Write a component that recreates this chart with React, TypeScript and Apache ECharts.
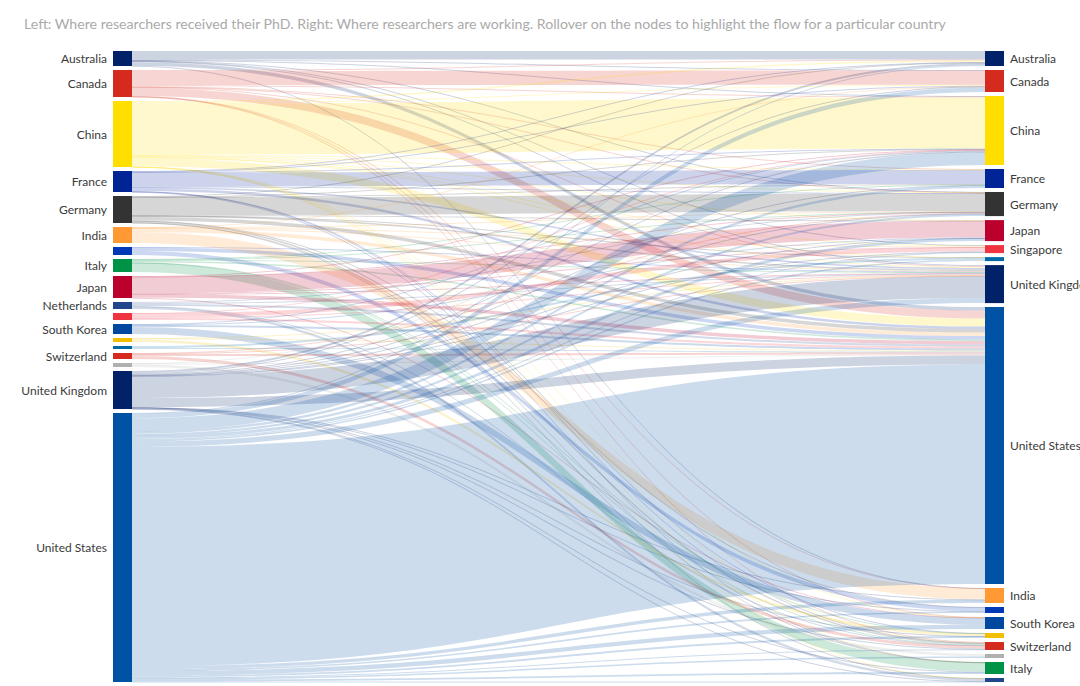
import React, { useEffect, useRef } from "react";
import * as echarts from "echarts";

const titleText =
  "Left: Where researchers received their PhD. Right: Where researchers are working. Rollover on the nodes to highlight the flow for a particular country";

// Left column (country of PhD), top to bottom
const phdCountries = [
  "Australia", "Canada", "China", "France", "Germany", "India", "Israel", "Italy", "Japan",
  "Netherlands", "Singapore", "South Korea", "Spain", "Sweden", "Switzerland", "Taiwan",
  "United Kingdom", "United States",
];
// Right column (country of work), top to bottom
const workCountries = [
  "Australia", "Canada", "China", "France", "Germany", "Japan", "Singapore", "Sweden",
  "United Kingdom", "United States", "India", "Israel", "South Korea", "Spain", "Switzerland",
  "Taiwan", "Italy", "Netherlands",
];
const phdHiddenLabels = ["Israel", "Singapore", "Spain", "Sweden", "Taiwan"];
const workHiddenLabels = ["Sweden", "Israel", "Spain", "Taiwan", "Netherlands"];

const countryColors: Record<string, string> = {
  Australia: "#012169",
  Canada: "#d52b1e",
  China: "#ffde00",
  France: "#002395",
  Germany: "#333333",
  India: "#ff9933",
  Israel: "#0038b8",
  Italy: "#009246",
  Japan: "#bc002d",
  Netherlands: "#21468b",
  Singapore: "#ef3340",
  "South Korea": "#0047a0",
  Spain: "#f1bf00",
  Sweden: "#006aa7",
  Switzerland: "#d52b1e",
  Taiwan: "#b0b0b0",
  "United Kingdom": "#012169",
  "United States": "#0052a5",
};

// [PhD country, work country, researchers]
const fromAustralia: [string, string, number][] = [
  ["Australia", "Australia", 8.6], ["Australia", "Canada", 0.5], ["Australia", "China", 0.5],
  ["Australia", "Germany", 0.2], ["Australia", "Singapore", 0.5], ["Australia", "United Kingdom", 1],
  ["Australia", "United States", 3.5], ["Australia", "India", 0.2],
];
const fromCanada: [string, string, number][] = [
  ["Canada", "Canada", 14.3], ["Canada", "Australia", 1], ["Canada", "China", 1], ["Canada", "France", 0.5],
  ["Canada", "Germany", 0.3], ["Canada", "United Kingdom", 1], ["Canada", "United States", 8],
  ["Canada", "India", 0.2], ["Canada", "South Korea", 0.2], ["Canada", "Switzerland", 0.5],
];
const fromChina: [string, string, number][] = [
  ["China", "China", 51], ["China", "Australia", 1.5], ["China", "Canada", 1], ["China", "France", 0.5],
  ["China", "Germany", 0.5], ["China", "Japan", 0.5], ["China", "Singapore", 1], ["China", "Sweden", 0.2],
  ["China", "United Kingdom", 1], ["China", "United States", 8], ["China", "South Korea", 0.3],
  ["China", "Switzerland", 0.2], ["China", "Italy", 0.1], ["China", "Netherlands", 0.2],
];
const fromFrance: [string, string, number][] = [
  ["France", "France", 14], ["France", "Australia", 0.5], ["France", "Canada", 0.5], ["France", "China", 0.5],
  ["France", "Germany", 0.5], ["France", "United Kingdom", 1.5], ["France", "United States", 2.5],
  ["France", "Spain", 0.2], ["France", "Switzerland", 0.5], ["France", "Italy", 0.3],
];
const fromGermany: [string, string, number][] = [
  ["Germany", "Germany", 17.7], ["Germany", "Australia", 0.5], ["Germany", "China", 0.5], ["Germany", "France", 0.5],
  ["Germany", "Japan", 0.2], ["Germany", "Sweden", 0.2], ["Germany", "United Kingdom", 1.5],
  ["Germany", "United States", 3.5], ["Germany", "Israel", 0.2], ["Germany", "Switzerland", 1.5],
  ["Germany", "Italy", 0.2], ["Germany", "Netherlands", 0.5],
];
const fromIndia: [string, string, number][] = [
  ["India", "India", 11], ["India", "Canada", 0.3], ["India", "Germany", 0.2], ["India", "Singapore", 0.5],
  ["India", "United Kingdom", 0.5], ["India", "United States", 3.5],
];
const fromIsrael: [string, string, number][] = [
  ["Israel", "Israel", 4], ["Israel", "United Kingdom", 0.5], ["Israel", "United States", 3.5],
];
const fromItaly: [string, string, number][] = [
  ["Italy", "Italy", 9], ["Italy", "France", 0.5], ["Italy", "Germany", 0.3], ["Italy", "United Kingdom", 1],
  ["Italy", "United States", 1.5], ["Italy", "Spain", 0.2], ["Italy", "Switzerland", 0.5],
];
const fromJapan: [string, string, number][] = [
  ["Japan", "Japan", 16.6], ["Japan", "China", 0.5], ["Japan", "Germany", 0.2], ["Japan", "Singapore", 0.5],
  ["Japan", "United Kingdom", 0.5], ["Japan", "United States", 3.5], ["Japan", "South Korea", 0.2],
];
const fromNetherlands: [string, string, number][] = [
  ["Netherlands", "Netherlands", 2.5], ["Netherlands", "Germany", 1], ["Netherlands", "United Kingdom", 1],
  ["Netherlands", "United States", 2], ["Netherlands", "Switzerland", 0.5],
];
const fromSingapore: [string, string, number][] = [
  ["Singapore", "Singapore", 4], ["Singapore", "China", 0.5], ["Singapore", "United Kingdom", 0.5],
  ["Singapore", "United States", 2],
];
const fromSouthKorea: [string, string, number][] = [
  ["South Korea", "South Korea", 7], ["South Korea", "China", 0.5], ["South Korea", "Japan", 0.5],
  ["South Korea", "United States", 2],
];
const fromSpain: [string, string, number][] = [
  ["Spain", "Spain", 2.5], ["Spain", "United Kingdom", 0.5], ["Spain", "United States", 1],
];
const fromSweden: [string, string, number][] = [
  ["Sweden", "Sweden", 2], ["Sweden", "United States", 1],
];
const fromSwitzerland: [string, string, number][] = [
  ["Switzerland", "Switzerland", 3], ["Switzerland", "Germany", 0.5], ["Switzerland", "United Kingdom", 0.5],
  ["Switzerland", "United States", 2],
];
const fromTaiwan: [string, string, number][] = [
  ["Taiwan", "Taiwan", 2.5], ["Taiwan", "China", 0.5], ["Taiwan", "United States", 1],
];
const fromUnitedKingdom: [string, string, number][] = [
  ["United Kingdom", "United Kingdom", 21.8], ["United Kingdom", "Australia", 2], ["United Kingdom", "Canada", 1],
  ["United Kingdom", "China", 0.5], ["United Kingdom", "France", 0.5], ["United Kingdom", "Germany", 0.5],
  ["United Kingdom", "Japan", 0.2], ["United Kingdom", "Singapore", 0.5], ["United Kingdom", "United States", 9],
  ["United Kingdom", "India", 0.3], ["United Kingdom", "Israel", 0.2], ["United Kingdom", "Spain", 0.2],
  ["United Kingdom", "Switzerland", 0.5], ["United Kingdom", "Italy", 0.5], ["United Kingdom", "Netherlands", 0.3],
];
const fromUnitedStates: [string, string, number][] = [
  ["United States", "United States", 219.4], ["United States", "Australia", 0.9], ["United States", "Canada", 4.4],
  ["United States", "China", 13], ["United States", "France", 2.5], ["United States", "Germany", 2.2],
  ["United States", "Japan", 3], ["United States", "Singapore", 1], ["United States", "Sweden", 1.6],
  ["United States", "United Kingdom", 5.2], ["United States", "India", 3.3], ["United States", "Israel", 1.6],
  ["United States", "South Korea", 4.3], ["United States", "Spain", 1.9], ["United States", "Switzerland", 0.8],
  ["United States", "Taiwan", 1.5], ["United States", "Italy", 1.9], ["United States", "Netherlands", 0.5],
];

const allFlows = [
  ...fromAustralia, ...fromCanada, ...fromChina, ...fromFrance, ...fromGermany, ...fromIndia,
  ...fromIsrael, ...fromItaly, ...fromJapan, ...fromNetherlands, ...fromSingapore, ...fromSouthKorea,
  ...fromSpain, ...fromSweden, ...fromSwitzerland, ...fromTaiwan, ...fromUnitedKingdom, ...fromUnitedStates,
];

const phdId = (c: string) => "PhD: " + c;
const workId = (c: string) => "Work: " + c;

export default function App() {
  const ref = useRef<HTMLDivElement>(null);
  useEffect(() => {
    if (!ref.current) return;
    const chart = echarts.init(ref.current, undefined, { renderer: "svg" });

    const nodes = [
      ...phdCountries.map((c) => ({
        name: phdId(c),
        country: c,
        itemStyle: { color: countryColors[c] },
        label: { show: !phdHiddenLabels.includes(c), position: "left" },
      })),
      ...workCountries.map((c) => ({
        name: workId(c),
        country: c,
        itemStyle: { color: countryColors[c] },
        label: { show: !workHiddenLabels.includes(c), position: "right" },
      })),
    ];
    const links = allFlows.map(([s, t, v]) => ({ source: phdId(s), target: workId(t), value: v }));

    chart.setOption({
      animation: false,
      backgroundColor: "#ffffff",
      title: {
        text: titleText,
        left: 19,
        top: 11,
        textStyle: { fontSize: 14.15, fontWeight: "normal", color: "#aaaaaa", fontFamily: "Lato" },
      },
      series: [
        {
          type: "sankey",
          left: 113,
          right: 76,
          top: 51,
          bottom: 4,
          nodeWidth: 19,
          nodeGap: 4,
          layoutIterations: 0,
          draggable: false,
          emphasis: { disabled: true },
          itemStyle: { borderWidth: 0 },
          lineStyle: { color: "source", opacity: 0.2, curveness: 0.5 },
          label: {
            show: true,
            color: "#3a3a3a",
            fontSize: 12,
            fontFamily: "Lato",
            distance: 6,
            formatter: (p: any) => (p.data && p.data.country) || "",
          },
          data: nodes,
          links,
        },
      ],
    });
    return () => chart.dispose();
  }, []);
  return <div ref={ref} style={{ position: "fixed", left: 0, top: 0, width: 1080, height: 686 }} />;
}
